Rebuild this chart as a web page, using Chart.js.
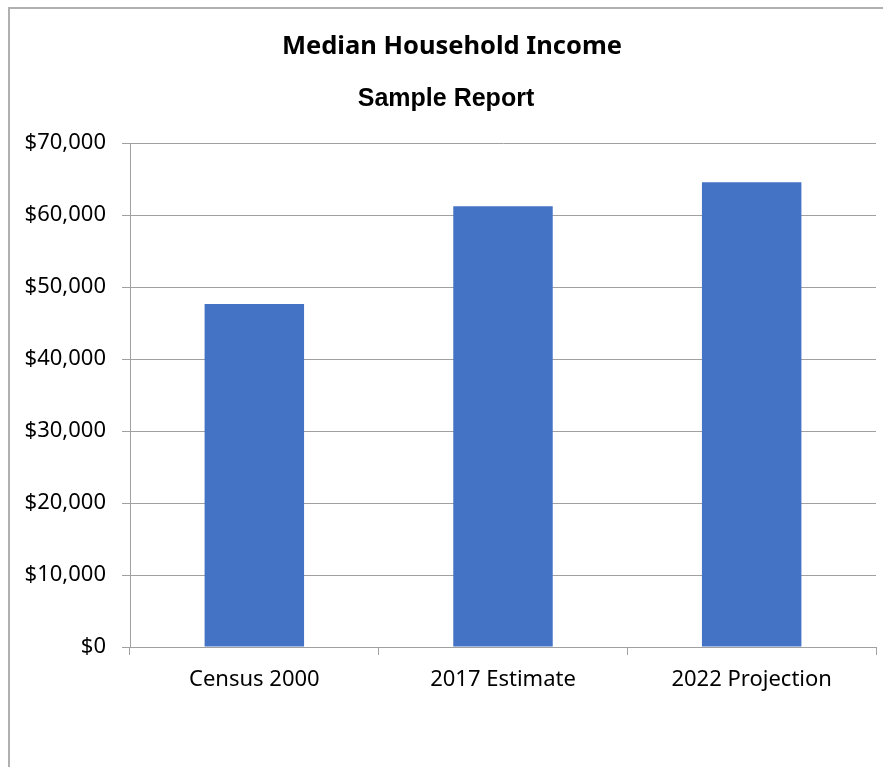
<!DOCTYPE html>
<html>
<head>
<meta charset="utf-8">
<script src="https://cdn.jsdelivr.net/npm/chart.js@4/dist/chart.umd.min.js"></script>
<style>
  html, body { margin: 0; padding: 0; background: #ffffff; }
  #frame { position: absolute; left: 8px; top: 7px; width: 900px; height: 900px;
           border-top: 2px solid #b0b0b0; border-left: 2px solid #b0b0b0; box-sizing: border-box; }
  #c { position: absolute; left: 0; top: 0; }
</style>
</head>
<body>
<div id="frame"></div>
<canvas id="c" width="883" height="767"></canvas>
<script>
const categories = ['Census 2000', '2017 Estimate', '2022 Projection'];
const medianIncome = [47640, 61200, 64540];
const yMin = 0;
const yMax = 70000;
const yStep = 10000;
const titleText = 'Median Household Income';
const subtitleText = 'Sample Report';

const gridColor = '#a0a0a0';

const titlesPlugin = {
  id: 'titles',
  afterDraw(chart) {
    const ctx = chart.ctx;
    ctx.save();
    ctx.fillStyle = '#000000';
    ctx.textAlign = 'center';
    ctx.textBaseline = 'alphabetic';
    ctx.font = 'bold 25.5px "Noto Sans"';
    ctx.fillText(titleText, 452, 54);
    ctx.font = 'bold 25px "Liberation Sans"';
    ctx.fillText(subtitleText, 446, 106);
    ctx.restore();
  }
};

new Chart(document.getElementById('c'), {
  type: 'bar',
  data: {
    labels: categories,
    datasets: [{
      data: medianIncome,
      backgroundColor: '#4472C4',
      borderWidth: 0,
      categoryPercentage: 0.4,
      barPercentage: 1.0
    }]
  },
  plugins: [titlesPlugin],
  options: {
    responsive: false,
    animation: false,
    layout: { autoPadding: false, padding: { left: 0, right: 7, top: 143, bottom: 0 } },
    plugins: {
      legend: { display: false },
      tooltip: { enabled: false },
      title: { display: false },
      subtitle: { display: false }
    },
    scales: {
      x: {
        offset: true,
        grid: { display: true, drawOnChartArea: false, drawTicks: true, tickLength: 8, color: gridColor, offset: true },
        border: { display: true, color: gridColor, width: 1 },
        ticks: { color: '#000000', padding: 12, font: { family: '"Noto Sans"', size: 22 } },
        afterFit: (s) => { s.height = 120; }
      },
      y: {
        min: yMin,
        max: yMax,
        grid: { color: gridColor, tickLength: 8, drawTicks: true },
        border: { display: true, color: gridColor, width: 1 },
        ticks: {
          stepSize: yStep,
          color: '#000000',
          padding: 16,
          font: { family: '"Noto Sans"', size: 22 },
          callback: (v) => '$' + Number(v).toLocaleString('en-US')
        },
        afterFit: (s) => { s.width = 130; }
      }
    }
  }
});
</script>
</body>
</html>
